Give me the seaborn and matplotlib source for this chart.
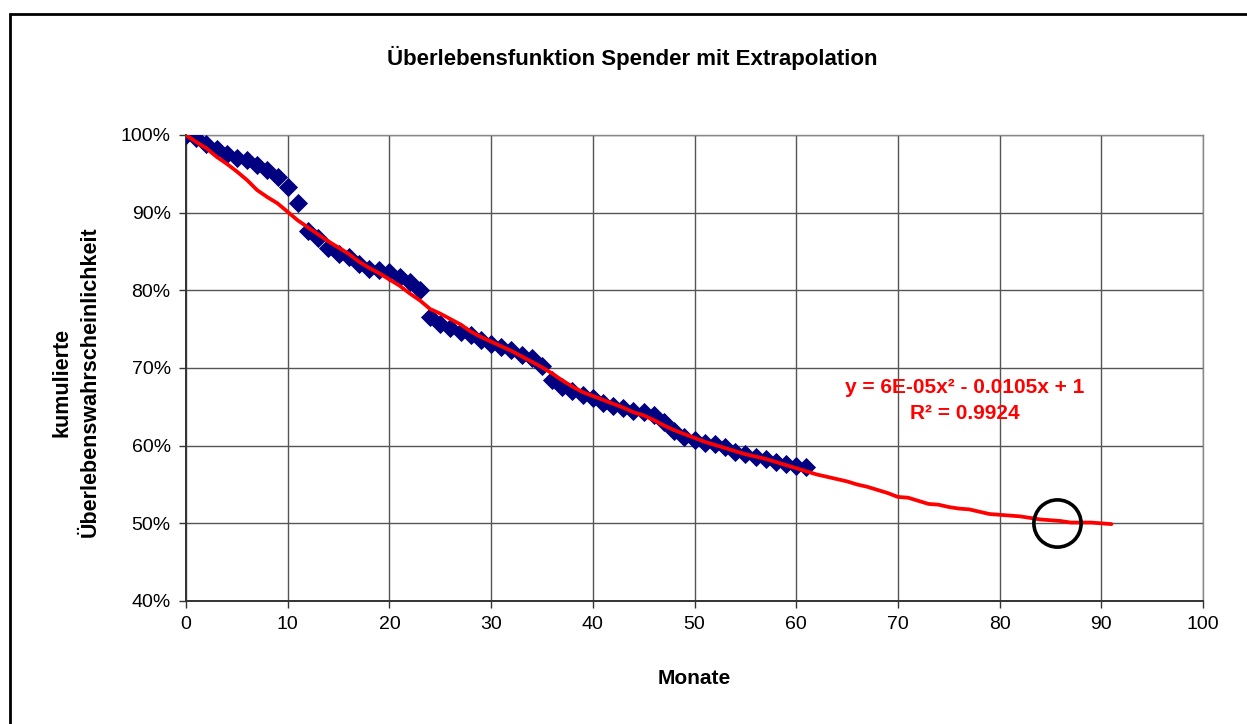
import pandas as pd
import seaborn as sns
import matplotlib.pyplot as plt
from matplotlib.patches import Rectangle
from matplotlib.ticker import PercentFormatter

# beobachtete Überlebenswahrscheinlichkeit (Monate 0..61), in %
monate_beob = list(range(0, 62))
ueberleben_beob = [
    100.0, 99.6, 98.9, 98.2, 97.6, 97.0, 96.8, 96.1, 95.5, 94.6,
    93.3, 91.2, 87.7, 86.8, 85.5, 84.7, 84.3, 83.4, 82.8, 82.6,
    82.4, 81.7, 81.1, 80.0, 76.6, 75.7, 75.1, 74.6, 74.2, 73.6,
    73.1, 72.7, 72.3, 71.7, 71.3, 70.3, 68.4, 67.6, 67.0, 66.5,
    66.1, 65.5, 65.1, 64.8, 64.5, 64.3, 64.0, 63.1, 61.9, 61.1,
    60.7, 60.4, 60.2, 59.8, 59.2, 58.9, 58.5, 58.3, 57.9, 57.6,
    57.4, 57.2,
]

# Extrapolation (rote Linie), Monate 0..91, in %
monate_extra = list(range(0, 92))
ueberleben_extra = [
    100.0, 99.1, 98.3, 97.2, 96.3, 95.3, 94.2, 92.9, 92.0, 91.2,
    90.1, 89.0, 88.1, 87.2, 86.3, 85.5, 84.7, 83.7, 82.9, 82.2,
    81.4, 80.6, 79.6, 78.7, 77.6, 77.0, 76.3, 75.6, 74.7, 74.0,
    73.4, 72.8, 72.2, 71.5, 70.8, 70.1, 69.3, 68.4, 67.6, 66.9,
    66.4, 65.9, 65.4, 64.9, 64.3, 63.9, 63.3, 62.6, 62.0, 61.5,
    61.0, 60.5, 60.1, 59.7, 59.3, 58.9, 58.6, 58.3, 57.9, 57.5,
    57.1, 56.7, 56.3, 56.0, 55.7, 55.4, 55.0, 54.7, 54.3, 53.9,
    53.4, 53.3, 52.9, 52.5, 52.4, 52.1, 51.9, 51.8, 51.5, 51.2,
    51.1, 51.0, 50.9, 50.7, 50.5, 50.4, 50.3, 50.1, 50.1, 50.1,
    50.0, 49.9,
]

# markierter Punkt (50 %)
markierung_monat = 85.6
markierung_wert = 50.0

gleichung = "y = 6E-05x² - 0.0105x + 1\nR² = 0.9924"

df_beob = pd.DataFrame({"Monate": monate_beob,
                        "Wert": [v / 100 for v in ueberleben_beob]})
df_extra = pd.DataFrame({"Monate": monate_extra,
                         "Wert": [v / 100 for v in ueberleben_extra]})

sns.set_theme(style="white")
plt.rcParams["font.family"] = ["Liberation Sans", "DejaVu Sans"]
plt.rcParams["text.color"] = "black"
plt.rcParams["axes.labelcolor"] = "black"
plt.rcParams["xtick.color"] = "black"
plt.rcParams["ytick.color"] = "black"

fig = plt.figure(figsize=(12.47, 7.24), dpi=100)
ax = fig.add_axes([186 / 1247, 1 - 601 / 724, (1203 - 186) / 1247, (601 - 135) / 724])

sns.scatterplot(x="Monate", y="Wert", data=df_beob, marker="D", s=95,
                color="#000080", linewidth=0, ax=ax, zorder=3)
sns.lineplot(x="Monate", y="Wert", data=df_extra, color="#ff0000",
             linewidth=2.7, ax=ax, zorder=4)
ax.plot([markierung_monat], [markierung_wert / 100], marker="o", ms=34,
        mfc="none", mec="black", mew=2.6, zorder=5, clip_on=False)

ax.set_xlim(0, 100)
ax.set_ylim(0.4, 1.0)
ax.set_xticks(range(0, 101, 10))
ax.set_yticks([0.4, 0.5, 0.6, 0.7, 0.8, 0.9, 1.0])
ax.yaxis.set_major_formatter(PercentFormatter(1.0, decimals=0))
ax.grid(True, color="#555555", linewidth=1)
ax.set_axisbelow(True)
ax.tick_params(axis="both", direction="out", length=5, width=1,
               color="#333333", labelsize=14)
ax.tick_params(axis="x", pad=6)
ax.tick_params(axis="y", pad=6)
ax.tick_params(left=True, bottom=True)
for side in ["left", "bottom"]:
    ax.spines[side].set_color("#333333")
    ax.spines[side].set_linewidth(1.4)
for side in ["top", "right"]:
    ax.spines[side].set_color("#888888")
    ax.spines[side].set_linewidth(1)

ax.set_xlabel("Monate", fontsize=15, fontweight="bold", labelpad=26)
ax.set_ylabel("kumulierte\nÜberlebenswahrscheinlichkeit", fontsize=15.5,
              fontweight="bold", linespacing=1.45)
ax.yaxis.set_label_coords(-0.084, 0.47)

fig.text(632 / 1247, 1 - 58 / 724, "Überlebensfunktion Spender mit Extrapolation",
         ha="center", va="center", fontsize=16, fontweight="bold")
ax.text(0.766, 0.431, gleichung, transform=ax.transAxes, ha="center",
        va="center", color="#ff0000", fontsize=15, fontweight="bold",
        linespacing=1.45)

# Rahmen um das Diagramm
fig.add_artist(Rectangle((10 / 1247, -0.1), 1.2, 1.1 - 14 / 724,
                         transform=fig.transFigure, fill=False,
                         edgecolor="black", linewidth=2))

fig.savefig("out.png", dpi=100)
